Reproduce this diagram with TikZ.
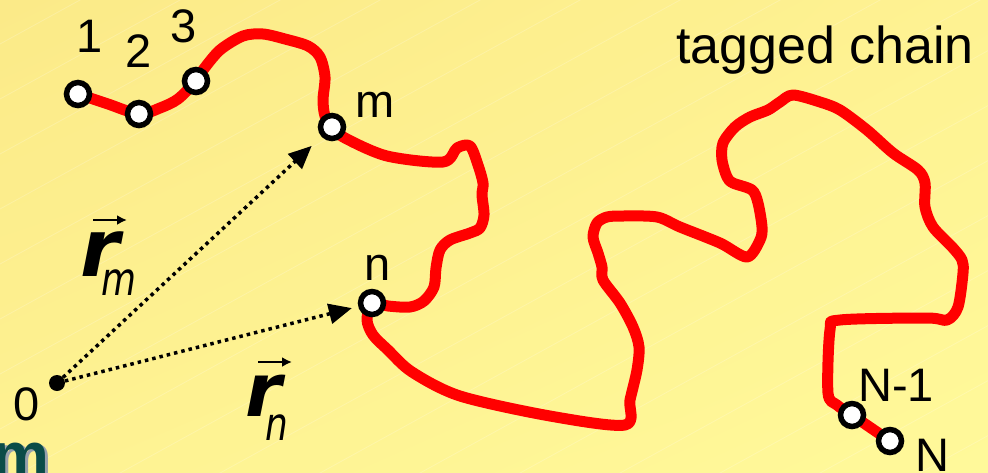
\documentclass[tikz,border=0pt]{standalone}
\usepackage{fontspec}
\setmainfont{Liberation Sans}
\newfontfamily\vecfont{DejaVu Sans}[
  BoldFont={DejaVu Sans Bold},
  ItalicFont={DejaVu Sans Oblique},
  BoldItalicFont={DejaVu Sans Bold Oblique}]
\usetikzlibrary{arrows.meta,shadings}

\definecolor{bgA}{RGB}{251,234,136}
\definecolor{bgM}{RGB}{254,242,146}
\definecolor{bgB}{RGB}{255,249,154}
\definecolor{chainred}{RGB}{255,0,0}
\definecolor{titleteal}{RGB}{10,76,72}
\definecolor{tealshadow}{RGB}{150,160,172}

\begin{document}
\begin{tikzpicture}[x=1pt,y=-1pt,
  chain/.style={draw=chainred, line width=11pt, line cap=round, line join=round},
  bead/.style={circle, draw=black, fill=white, line width=5.5pt, minimum size=23pt, inner sep=0pt},
  origin/.style={circle, fill=black, minimum size=16pt, inner sep=0pt},
  lbl/.style={inner sep=0pt, font=\fontsize{47}{56}\selectfont},
  posvec/.style={line width=3.5pt, dash pattern=on 3.5pt off 4pt,
    -{Triangle[length=23pt,width=20pt]}},
  vecarrow/.style={line width=2.4pt, -{Latex[length=10pt,width=10pt]}},
  vecsym/.style={inner sep=0pt, font=\vecfont\bfseries\itshape\fontsize{80}{90}\selectfont},
  vecsub/.style={inner sep=0pt, xscale=0.78, font=\vecfont\itshape\fontsize{46}{52}\selectfont},
  texture/.style={draw=white, line width=0.8pt, opacity=0.2}
]
\useasboundingbox (0,0) rectangle (988,472);
\clip (0,0) rectangle (988,472);

% slide background
\shade[upper left=bgA, upper right=bgM, lower left=bgM, lower right=bgB]
  (0,0) rectangle (988,472);
\foreach \k in {0,...,22}
  \draw[texture] (-20,55*\k) -- ++(1200,-660);

% bead centres
\coordinate (c1)  at (78,94);
\coordinate (c2)  at (139,114);
\coordinate (c3)  at (196,81);
\coordinate (cm)  at (332,127);
\coordinate (cn)  at (372,303);
\coordinate (cN1) at (852,415);
\coordinate (cN)  at (890,441);

% the polymer chain
\draw[chain] plot[smooth, tension=0.5] coordinates {
  (c1) (108,104) (c2) (160,108) (178,99) (c3) (203,70) (220,50) (243,36)
  (263,34) (285,39) (308,46) (320,57) (325,77) (323,100) (325,116) (cm)
  (345,138) (387,156) (443,162) (457,148) (470,146) (478,165) (483,183)
  (482,195) (484,215) (480,228) (470,233) (450,240) (440,250) (436,268)
  (434,287) (424,301) (410,307) (388,306) (cn)
  (367,320) (373,335) (388,350) (412,372) (460,396) (550,416) (625,425)
  (630,400) (637,370) (639,347) (633,327) (620,303) (603,280) (602,267)
  (598,253) (593,237) (597,223) (607,217) (623,216) (657,217) (680,227)
  (720,243) (747,257) (760,240) (762,227) (758,203) (752,190) (733,183)
  (727,177) (722,160) (723,143) (735,127) (750,117) (768,110) (780,102)
  (793,95) (820,102) (840,110) (867,130) (893,153) (918,170) (925,183)
  (925,207) (933,227) (953,248) (962,260) (963,273) (958,307) (947,320)
  (927,318) (840,320) (830,330) (828,393) (837,405) (cN1) (cN)};

% tagged monomers
\node[bead] (b1)  at (c1)  {};
\node[bead] (b2)  at (c2)  {};
\node[bead] (b3)  at (c3)  {};
\node[bead] (bm)  at (cm)  {};
\node[bead] (bn)  at (cn)  {};
\node[bead] (bN1) at (cN1) {};
\node[bead] (bN)  at (cN)  {};

% origin and position vectors
\node[origin] (o) at (57,383) {};
\draw[posvec, shorten >=13.5pt] (o) -- (bm);
\draw[posvec, shorten >=6.5pt] (o) -- (bn);

% labels
\node[lbl] (l1)  at (90,36.5)   {1};
\node[lbl] (l2)  at (138.5,51.5) {2};
\node[lbl] (l3)  at (183.5,26.5) {3};
\node[lbl] (lm)  at (375.5,104.5) {m};
\node[lbl] (ln)  at (377.5,267.5) {n};
\node[lbl] (l0)  at (26.5,404.5) {0};
\node[lbl] (lN1) at (896,385)    {N-1};
\node[lbl] (lN)  at (932.5,455)  {N};
\node[lbl, font=\fontsize{52}{60}\selectfont, anchor=base west] (title)
  at (676,63) {tagged chain};

% vector symbols r_m and r_n
\node[vecsym] (rm) at (100,254.5) {r};
\node[vecsub] (rmsub) at (119,282.5) {m};
\coordinate (rmA) at (93,220);
\coordinate (rmB) at (127,220);
\draw[vecarrow] (rmA) -- (rmB);

\node[vecsym, font=\vecfont\bfseries\itshape\fontsize{74}{84}\selectfont] (rn) at (264,396) {r};
\node[vecsub] (rnsub) at (277,428) {n};
\coordinate (rnA) at (258,362);
\coordinate (rnB) at (292,362);
\draw[vecarrow] (rnA) -- (rnB);

% fragment of the slide heading at the lower edge
\node[anchor=base east, inner sep=0pt, text=tealshadow,
  font=\bfseries\fontsize{64}{70}\selectfont] (tmshadow) at (53,479) {m};
\node[anchor=base east, inner sep=0pt, text=titleteal,
  font=\bfseries\fontsize{64}{70}\selectfont] (tm) at (50,477) {m};
\end{tikzpicture}
\end{document}
